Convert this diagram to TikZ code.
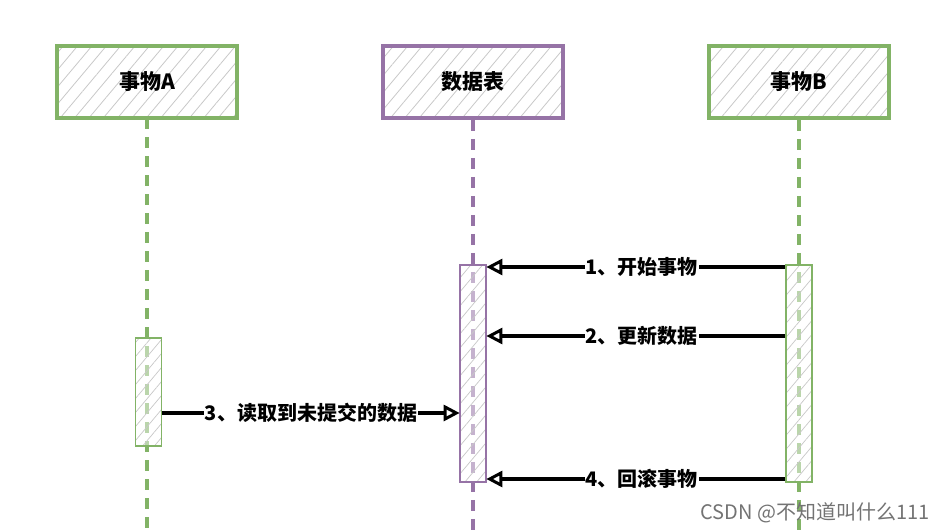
\documentclass[tikz,border=0pt]{standalone}
\usepackage{fontspec}
\newfontfamily\cjk{Noto Sans CJK SC}
\usetikzlibrary{arrows.meta,patterns.meta}
\definecolor{gline}{HTML}{82B366}
\definecolor{pline}{HTML}{9673A6}
\definecolor{hatch}{HTML}{C8C8C8}
\tikzset{
  head/.style={draw=#1, line width=3.6pt, minimum width=180pt, minimum height=72pt,
    pattern={Lines[angle=50,distance=11pt,line width=0.8pt]}, pattern color=hatch,
    font=\cjk\bfseries\fontsize{21}{24}\selectfont, inner sep=0pt},
  life/.style={draw=#1, line width=3.8pt, dash pattern=on 11pt off 8pt},
  act/.style={draw=#1, line width=1.4pt, minimum width=26pt, inner sep=0pt,
    preaction={fill=white, fill opacity=0.45},
    pattern={Lines[angle=50,distance=9pt,line width=0.7pt]}, pattern color=hatch},
  msg/.style={draw=black, line width=3.2pt, -{Triangle[open, length=16pt, width=16pt, line width=3pt]}},
  lbl/.style={fill=white, inner sep=1pt, font=\cjk\bfseries\fontsize{20}{24}\selectfont},
  wm/.style={font=\cjk\fontsize{20}{23}\selectfont, text=black!55, inner sep=0pt}
}
\begin{document}
\begin{tikzpicture}[x=1pt,y=-1pt]
\useasboundingbox (0,0) rectangle (945,532);
% heads
\node[head=gline] (A) at (147,82) {事物A};
\node[head=pline] (D) at (473,82) {数据表};
\node[head=gline] (B) at (799,82) {事物B};
% lifeline ends
\coordinate (Aend) at (147,532);
\coordinate (Dend) at (473,532);
\coordinate (Bend) at (799,532);
\draw[life=gline] (A.south) -- (Aend);
\draw[life=pline] (D.south) -- (Dend);
\draw[life=gline] (B.south) -- (Bend);
% activations
\node[act=pline, minimum height=217pt] (aD) at (473,373.5) {};
\node[act=gline, minimum height=217pt] (aB) at (799,373.5) {};
\node[act=gline, minimum height=108pt] (aA) at (148.5,392) {};
% message anchors
\coordinate (b1) at (aB.west |- 0,267);
\coordinate (d1) at (aD.east |- 0,267);
\coordinate (b2) at (aB.west |- 0,336);
\coordinate (d2) at (aD.east |- 0,336);
\coordinate (a3) at (aA.east |- 0,413);
\coordinate (d3) at (aD.west |- 0,413);
\coordinate (b4) at (aB.west |- 0,479);
\coordinate (d4) at (aD.east |- 0,479);
\draw[msg] (b1) -- node[lbl, pos=0.48] {1、开始事物} (d1);
\draw[msg] (b2) -- node[lbl, pos=0.48] {2、更新数据} (d2);
\draw[msg] (a3) -- node[lbl, pos=0.5] {3、读取到未提交的数据} (d3);
\draw[msg] (b4) -- node[lbl, pos=0.48] {4、回滚事物} (d4);
% watermark
\node[wm, anchor=east] (w) at (930,513) {CSDN @不知道叫什么111};
\end{tikzpicture}
\end{document}
